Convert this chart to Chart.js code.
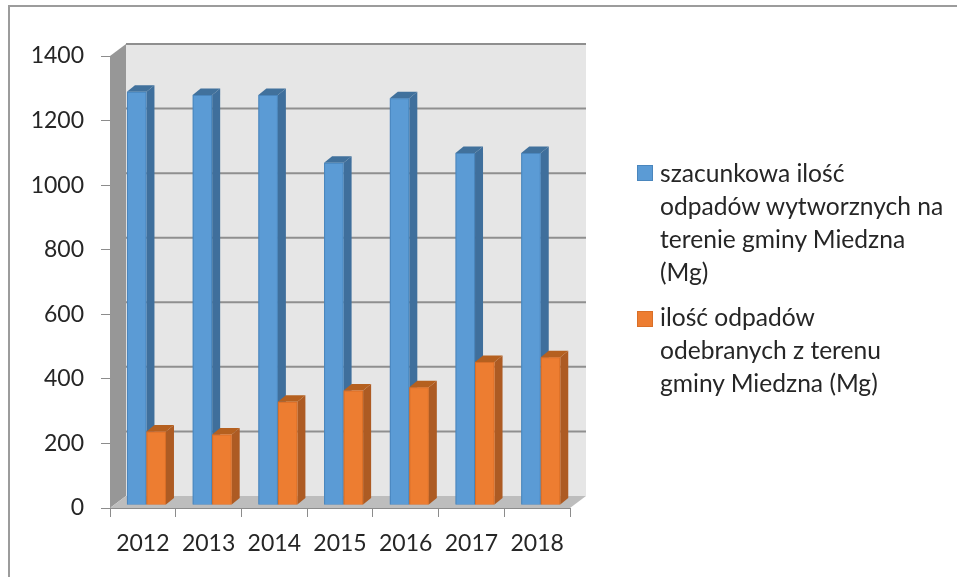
<!DOCTYPE html>
<html>
<head>
<meta charset="utf-8">
<script src="https://cdn.jsdelivr.net/npm/chart.js@4/dist/chart.umd.min.js"></script>
<style>
  html, body { margin: 0; padding: 0; background: #fff; }
  .chart-box { position: relative; width: 957px; height: 577px; overflow: hidden; }
  .frame { position: absolute; left: 8px; top: 5px; width: 960px; height: 600px; border: 2px solid #9c9c9c; box-sizing: border-box; }
  canvas { position: absolute; left: 0; top: 0; }
  .legend-item { position: absolute; left: 660px; font: 24.6px/33px Lato, sans-serif; color: #262626; white-space: nowrap; }
  .legend-box { position: absolute; left: -23px; width: 16px; height: 16px; box-sizing: border-box; border: 1px solid; }
</style>
</head>
<body>
<div class="chart-box">
  <div class="frame"></div>
  <canvas id="chart" width="957" height="577"></canvas>
  <div id="legend"></div>
</div>
<script>
const years = ['2012', '2013', '2014', '2015', '2016', '2017', '2018'];
const estimated = [1280, 1270, 1270, 1060, 1260, 1090, 1090];
const collected = [228, 218, 320, 355, 365, 443, 458];
const yTicks = [0, 200, 400, 600, 800, 1000, 1200, 1400];
const estimatedLines = ['szacunkowa ilość', 'odpadów wytworznych na', 'terenie gminy Miedzna', '(Mg)'];
const collectedLines = ['ilość odpadów', 'odebranych z terenu', 'gminy Miedzna (Mg)'];

// 3D look: how far the back wall sits from the front axes, and the bars inside that
const WALL_DX = 16, WALL_DY = 12;
const BAR_SHIFT_X = 3.6, BAR_SHIFT_Y = 3;
const BAR_DX = 8, BAR_DY = 6.5;

const shades = [
  { front: '#5b9bd5', edge: '#4a86bd', side: '#3f6f9c', top: '#41719c' },
  { front: '#ed7d31', edge: '#d96f28', side: '#ad5b23', top: '#b5601f' }
];

function polygon(ctx, points, fill) {
  ctx.beginPath();
  points.forEach((p, i) => (i ? ctx.lineTo(p[0], p[1]) : ctx.moveTo(p[0], p[1])));
  ctx.closePath();
  ctx.fillStyle = fill;
  ctx.fill();
}

function drawWalls(chart) {
  const { ctx, chartArea: a, scales: { y } } = chart;
  const backL = a.left + WALL_DX, backR = a.right + WALL_DX;
  const backT = a.top - WALL_DY, backB = a.bottom - WALL_DY;
  polygon(ctx, [[backL, backT], [backR, backT], [backR, backB], [backL, backB]], '#e6e6e6');
  polygon(ctx, [[a.left, a.top], [backL, backT], [backL, backB], [a.left, a.bottom]], '#979797');
  polygon(ctx, [[a.left, a.bottom], [backL, backB], [backR, backB], [a.right, a.bottom]], '#bdbdbd');
  ctx.strokeStyle = '#8f8f8f';
  ctx.lineWidth = 2;
  y.ticks.forEach((t) => {
    if (t.value === 0) return;
    const py = y.getPixelForValue(t.value) - WALL_DY;
    ctx.beginPath();
    ctx.moveTo(backL, py);
    ctx.lineTo(backR, py);
    ctx.stroke();
  });
}

function drawBarSides(ctx, meta, shade) {
  meta.data.forEach((bar) => {
    const { x, y, base, width } = bar.getProps(['x', 'y', 'base', 'width']);
    const r = x + width / 2, l = x - width / 2;
    polygon(ctx, [[r, y], [r + BAR_DX, y - BAR_DY], [r + BAR_DX, base - BAR_DY], [r, base]], shade.side);
    polygon(ctx, [[l, y], [l + BAR_DX, y - BAR_DY], [r + BAR_DX, y - BAR_DY], [r, y]], shade.top);
    // keeps the fractional edge of the front face from showing a pale seam
    polygon(ctx, [[l, y], [r, y], [r, base], [l, base]], shade.edge);
  });
}

const chart3d = {
  id: 'chart3d',
  // the library paints the first dataset last, here the orange bars have to cover the blue sides
  beforeDatasetsDraw(chart) {
    const { ctx } = chart;
    ctx.save();
    drawWalls(chart);
    ctx.translate(BAR_SHIFT_X, -BAR_SHIFT_Y);
    chart.getSortedVisibleDatasetMetas().forEach((meta) => {
      drawBarSides(ctx, meta, shades[meta.index]);
      meta.controller.draw();
    });
    ctx.restore();
    return false;
  }
};

new Chart(document.getElementById('chart'), {
  type: 'bar',
  data: {
    labels: years,
    datasets: [
      { data: estimated, backgroundColor: shades[0].front, borderColor: shades[0].edge, borderWidth: 1 },
      { data: collected, backgroundColor: shades[1].front, borderColor: shades[1].edge, borderWidth: 1 }
    ]
  },
  options: {
    responsive: false,
    animation: false,
    layout: { padding: { top: 56, right: 387 } },
    categoryPercentage: 0.594,
    barPercentage: 1,
    plugins: { legend: { display: false }, tooltip: { enabled: false } },
    scales: {
      x: {
        afterFit(scale) { scale.height = 69; },
        grid: { drawOnChartArea: false, tickLength: 9, tickColor: '#8c8c8c', lineWidth: 1 },
        border: { color: '#8c8c8c' },
        ticks: { color: '#262626', padding: 13, maxRotation: 0, autoSkip: false, font: { family: 'Lato', size: 23 } }
      },
      y: {
        min: 0,
        max: 1400,
        afterBuildTicks(scale) { scale.ticks = yTicks.map((value) => ({ value })); },
        afterFit(scale) { scale.width = 110; },
        grid: { drawOnChartArea: false, tickLength: 9, tickColor: '#8c8c8c' },
        border: { color: '#8c8c8c' },
        ticks: { color: '#262626', padding: 17, callback: (v) => String(v), font: { family: 'Lato', size: 23 } }
      }
    }
  },
  plugins: [chart3d]
});

// wrapped legend, the built-in one can't break these long names into lines
[
  { lines: estimatedLines, color: shades[0], top: 156, boxTop: 9 },
  { lines: collectedLines, color: shades[1], top: 300, boxTop: 11 }
].forEach((entry) => {
  const item = document.createElement('div');
  item.className = 'legend-item';
  item.style.top = entry.top + 'px';
  const box = document.createElement('span');
  box.className = 'legend-box';
  box.style.top = entry.boxTop + 'px';
  box.style.background = entry.color.front;
  box.style.borderColor = entry.color.edge;
  item.appendChild(box);
  entry.lines.forEach((line) => {
    const row = document.createElement('div');
    row.textContent = line;
    item.appendChild(row);
  });
  document.getElementById('legend').appendChild(item);
});
</script>
</body>
</html>
